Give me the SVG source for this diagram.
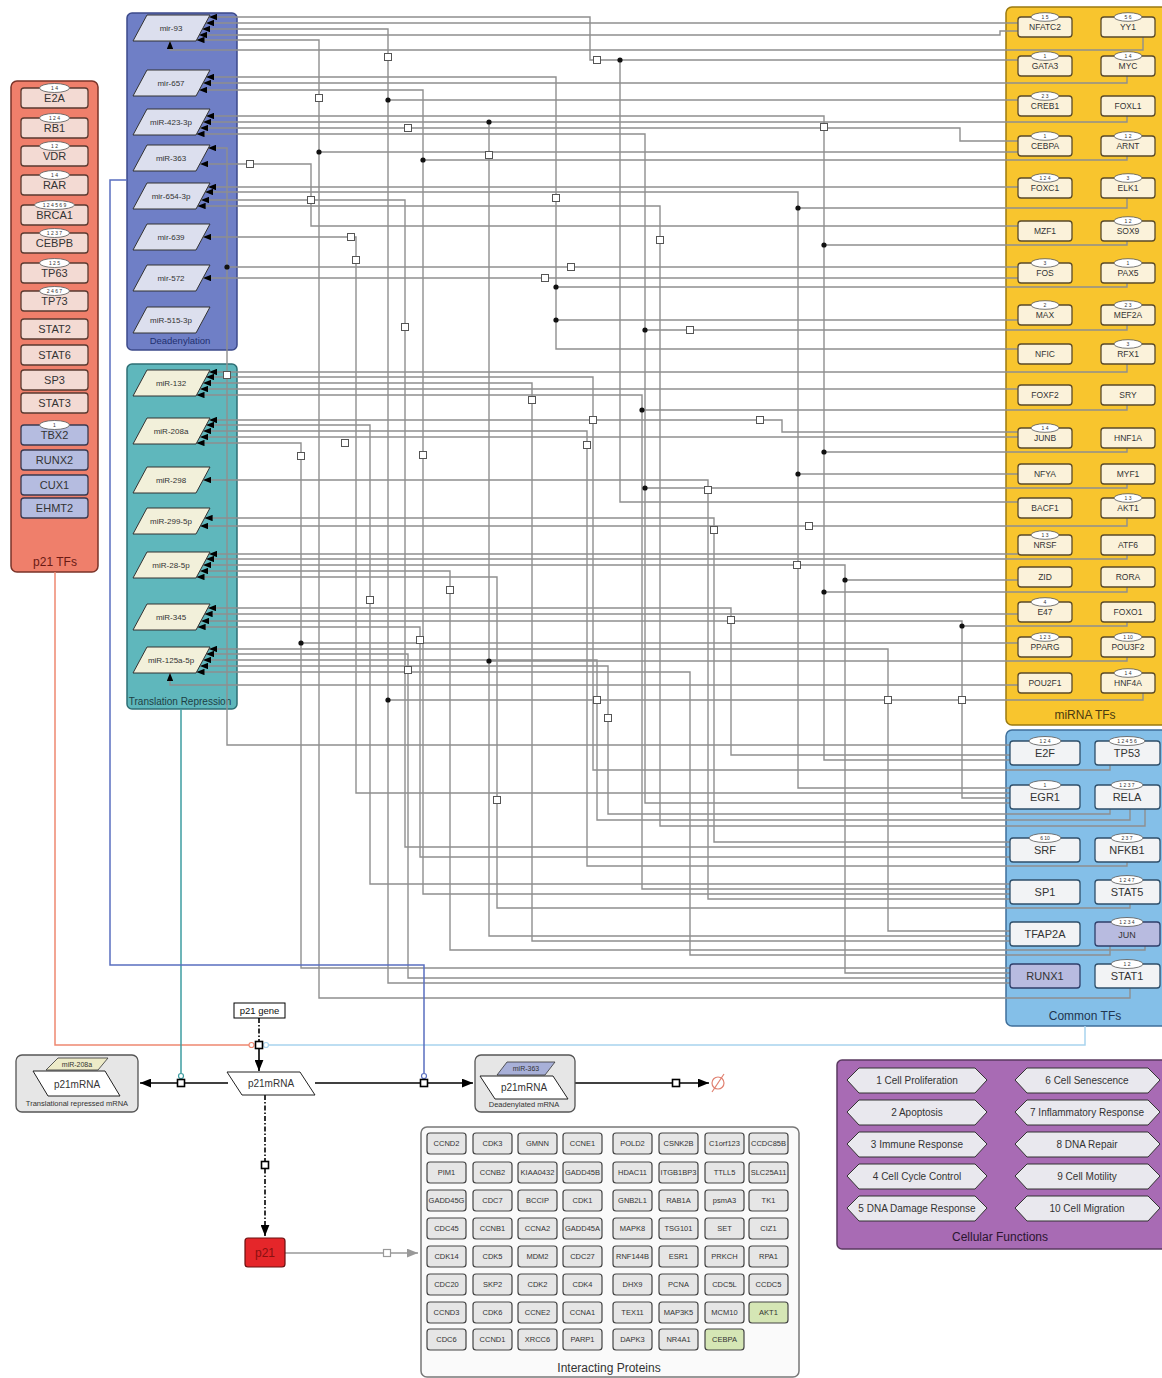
<svg xmlns="http://www.w3.org/2000/svg" width="1162" height="1378" viewBox="0 0 1162 1378">
<style>
text{font-family:"Liberation Sans",Arial,sans-serif;text-anchor:middle;fill:#333}
.w{fill:none;stroke:#8f8f8f;stroke-width:1.4}
.wa{fill:none;stroke:#8f8f8f;stroke-width:1.4;marker-start:url(#ah)}
.sq{fill:#fff;stroke:#555;stroke-width:1}
.dot{fill:#111}
.pb{fill:#F3DAD3;stroke:#5a3a30;stroke-width:1.3}
.pbb{fill:#B5BCE0;stroke:#3a3a50;stroke-width:1.3}
.dm{fill:#DCDFEE;stroke:#333;stroke-width:1}
.tm{fill:#F2F0DA;stroke:#333;stroke-width:1}
.yb{fill:#FBF2DA;stroke:#5a4a2a;stroke-width:1.3}
.cb{fill:#F2F3F5;stroke:#2f4f6a;stroke-width:1.3}
.cbb{fill:#B8BBE0;stroke:#2f3f6a;stroke-width:1.3}
.bd{fill:#fff;stroke:#555;stroke-width:0.8}
.bt{font-size:5px}
.t8{font-size:8px}
.t85{font-size:8.5px}
.t9{font-size:9px}
.t11{font-size:11px}
.ip{fill:#E6E6E6;stroke:#444;stroke-width:1.2}
.ipg{fill:#D5E6B5;stroke:#444;stroke-width:1.2}
.hx{fill:#E9E8EE;stroke:#333;stroke-width:1}
</style>
<defs>
<marker id="ah" viewBox="0 0 10 8" refX="10" refY="4" markerWidth="8" markerHeight="6.4" markerUnits="userSpaceOnUse" orient="auto-start-reverse"><path d="M0,0 L10,4 L0,8 z" fill="#000"/></marker>
<marker id="bh" viewBox="0 0 10 8" refX="10" refY="4" markerWidth="11" markerHeight="9" markerUnits="userSpaceOnUse" orient="auto"><path d="M0,0 L10,4 L0,8 z" fill="#000"/></marker>
<marker id="gh" viewBox="0 0 10 8" refX="10" refY="4" markerWidth="11" markerHeight="9" markerUnits="userSpaceOnUse" orient="auto"><path d="M0,0 L10,4 L0,8 z" fill="#999"/></marker>
</defs>
<rect width="1162" height="1378" fill="#fff"/>

<!-- panels -->
<g id="panel-p21tfs"><rect x="11" y="81" width="87" height="491" rx="6" fill="#EF7F6B" stroke="#7a3328" stroke-width="1.5"/><text x="55" y="566" style="font-size:12px;fill:#6a1a14">p21 TFs</text></g>
<g id="panel-dead"><rect x="127" y="13" width="110" height="337" rx="5" fill="#6F7FC6" stroke="#3c4a8a" stroke-width="1.5"/><text x="180" y="344" style="font-size:9.5px;fill:#223070">Deadenylation</text></g>
<g id="panel-trans"><rect x="127" y="364" width="110" height="345" rx="5" fill="#5FB7BC" stroke="#2e6f74" stroke-width="1.5"/><text x="180" y="705" style="font-size:10px;fill:#1d3f44">Translation Repression</text></g>
<g id="panel-mirnatfs"><rect x="1006" y="7" width="162" height="718" rx="6" fill="#F8C52E" stroke="#9a7a10" stroke-width="1.5"/><text x="1085" y="719" style="font-size:12px;fill:#4a3a10">miRNA TFs</text></g>
<g id="panel-common"><rect x="1006" y="730" width="162" height="296" rx="6" fill="#84BFE8" stroke="#3f6f9a" stroke-width="1.5"/><text x="1085" y="1020" style="font-size:12px;fill:#1f3550">Common TFs</text></g>
<g id="panel-cell"><rect x="837" y="1060" width="330" height="189" rx="5" fill="#A86BB4" stroke="#5a3a60" stroke-width="1.5"/><text x="1000" y="1241" style="font-size:12px;fill:#2a1530">Cellular Functions</text></g>
<g id="panel-ip"><rect x="421" y="1127" width="378" height="250" rx="6" fill="#FAFAFA" stroke="#777" stroke-width="1.5"/><text x="609" y="1372" style="font-size:12px;fill:#333">Interacting Proteins</text></g>

<!-- connectors -->
<g id="connectors">
<path class="wa" d="M209,17 H590 V60 H1018"/>
<path class="wa" d="M206,23 H1018"/>
<path class="wa" d="M202,29 H388 V983 H1010"/>
<path class="wa" d="M199,35 H1000 V31 H1018"/>
<path class="wa" d="M196.5,40 H319 V998 H1130 V988"/>
<path class="wa" d="M170,41 V50 H1143 V37"/>
<path class="wa" d="M206,77 H556 V349 H1018"/>
<path class="wa" d="M203,83 H1127 V76"/>
<path class="wa" d="M199,90 H423 V894 H1010"/>
<path class="wa" d="M206,116 H824 V760 H1010"/>
<path class="wa" d="M203,122 H489 V936 H1010"/>
<path class="wa" d="M200,128 H960 V141 H1018"/>
<path class="wa" d="M196.5,134 H645 V803 H1010"/>
<path class="wa" d="M208,148 H227 V745 H1010"/>
<path class="wa" d="M200,164 H311 V226 H1018"/>
<path class="wa" d="M208,187 H1018"/>
<path class="wa" d="M205,192 H798 V788 H1010"/>
<path class="wa" d="M201,200 H405 V847 H1010"/>
<path class="wa" d="M197.6,206 H660 V826 H1145 V809"/>
<path class="wa" d="M203,237 H356 V793 H1010"/>
<path class="wa" d="M203,278 H1018"/>
<path class="w" d="M227,267 H1018"/>
<path class="wa" d="M209,372 H1127 V364"/>
<path class="wa" d="M206,377 H593 V770 H1110 V765"/>
<path class="wa" d="M203,383 H532 V941 H1010"/>
<path class="wa" d="M200,389 H1018"/>
<path class="wa" d="M196.5,395 H642 V889 H1010"/>
<path class="wa" d="M209,420 H782 V432 H1018"/>
<path class="wa" d="M206,425 H370 V884 H1010"/>
<path class="wa" d="M203,431 H587 V866 H1127 V862"/>
<path class="wa" d="M200,437 H1018"/>
<path class="wa" d="M196.5,443 H301 V968 H1010"/>
<path class="wa" d="M203,480 H708 V899 H1010"/>
<path class="wa" d="M204.6,518 H714 V842 H1010"/>
<path class="wa" d="M200,526 H1127 V518"/>
<path class="wa" d="M209,554 H1018"/>
<path class="wa" d="M206,559 H1127 V555"/>
<path class="wa" d="M203,565 H845 V973 H1010"/>
<path class="wa" d="M200,571 H450 V950 H1145 V946"/>
<path class="wa" d="M196.5,577 H497 V908 H1130 V904"/>
<path class="wa" d="M208,608 H731 V755 H1010"/>
<path class="wa" d="M204.6,614 H1018"/>
<path class="wa" d="M201,621 H962 V798 H1010"/>
<path class="wa" d="M197.6,627 H420 V857 H1010"/>
<path class="wa" d="M209,649 H888 V931 H1010"/>
<path class="wa" d="M206,654 H408 V978 H1010"/>
<path class="wa" d="M203,660 H597 V820 H1130 V809"/>
<path class="wa" d="M200,666 H608 V814 H1110 V809"/>
<path class="wa" d="M196.5,672 H690 V955 H1110 V946"/>
<path class="wa" d="M170,673 V685 H1018"/>
<path class="w" d="M489,122 H1127 V116"/>
<path class="w" d="M620,60 V502 H1018"/>
<path class="w" d="M319,152 H1018"/>
<path class="w" d="M798,208 H1127 V198"/>
<path class="w" d="M824,245 H1127 V241"/>
<path class="w" d="M556,320 H1018"/>
<path class="w" d="M556,287 H1127 V283"/>
<path class="w" d="M645,330 H1127 V325"/>
<path class="w" d="M642,410 H1127 V405"/>
<path class="w" d="M824,452 H1127 V448"/>
<path class="w" d="M798,474 H1018"/>
<path class="w" d="M645,488 H1127 V484"/>
<path class="w" d="M845,580 H1018"/>
<path class="w" d="M824,592 H1127 V587"/>
<path class="w" d="M962,626 H1127 V622"/>
<path class="w" d="M301,643 H1018"/>
<path class="w" d="M489,661 H1127 V657"/>
<path class="w" d="M388,700 H1143 V693"/>
<path class="w" d="M388,100 H1018"/>
<path class="w" d="M423,160 H1127 V156"/>
<g class="dot">
<circle cx="620" cy="60" r="2.6"/><circle cx="489" cy="122" r="2.6"/><circle cx="319" cy="152" r="2.6"/><circle cx="798" cy="208" r="2.6"/><circle cx="824" cy="245" r="2.6"/><circle cx="227" cy="267" r="2.6"/><circle cx="556" cy="320" r="2.6"/><circle cx="556" cy="287" r="2.6"/><circle cx="645" cy="330" r="2.6"/><circle cx="642" cy="410" r="2.6"/><circle cx="824" cy="452" r="2.6"/><circle cx="798" cy="474" r="2.6"/><circle cx="645" cy="488" r="2.6"/><circle cx="845" cy="580" r="2.6"/><circle cx="824" cy="592" r="2.6"/><circle cx="962" cy="626" r="2.6"/><circle cx="301" cy="643" r="2.6"/><circle cx="489" cy="661" r="2.6"/><circle cx="388" cy="700" r="2.6"/><circle cx="388" cy="100" r="2.6"/><circle cx="423" cy="160" r="2.6"/>
</g>
<g class="sq">
<rect x="593.5" y="56.5" width="7" height="7"/><rect x="384.5" y="53.5" width="7" height="7"/><rect x="315.5" y="94.5" width="7" height="7"/><rect x="552.5" y="194.5" width="7" height="7"/><rect x="485.5" y="151.5" width="7" height="7"/><rect x="404.5" y="124.5" width="7" height="7"/><rect x="246.5" y="160.5" width="7" height="7"/><rect x="307.5" y="196.5" width="7" height="7"/><rect x="401.5" y="323.5" width="7" height="7"/><rect x="347.5" y="233.5" width="7" height="7"/><rect x="352.5" y="256.5" width="7" height="7"/><rect x="656.5" y="236.5" width="7" height="7"/><rect x="820.5" y="123.5" width="7" height="7"/><rect x="541.5" y="274.5" width="7" height="7"/><rect x="567.5" y="263.5" width="7" height="7"/><rect x="686.5" y="326.5" width="7" height="7"/><rect x="589.5" y="416.5" width="7" height="7"/><rect x="528.5" y="396.5" width="7" height="7"/><rect x="756.5" y="416.5" width="7" height="7"/><rect x="583.5" y="441.5" width="7" height="7"/><rect x="341.5" y="439.5" width="7" height="7"/><rect x="297.5" y="452.5" width="7" height="7"/><rect x="704.5" y="486.5" width="7" height="7"/><rect x="710.5" y="526.5" width="7" height="7"/><rect x="805.5" y="522.5" width="7" height="7"/><rect x="446.5" y="586.5" width="7" height="7"/><rect x="727.5" y="616.5" width="7" height="7"/><rect x="416.5" y="636.5" width="7" height="7"/><rect x="404.5" y="666.5" width="7" height="7"/><rect x="593.5" y="696.5" width="7" height="7"/><rect x="604.5" y="714.5" width="7" height="7"/><rect x="884.5" y="696.5" width="7" height="7"/><rect x="958.5" y="696.5" width="7" height="7"/><rect x="419.5" y="451.5" width="7" height="7"/><rect x="223.5" y="371.5" width="7" height="7"/><rect x="793.5" y="561.5" width="7" height="7"/><rect x="493.5" y="796.5" width="7" height="7"/><rect x="366.5" y="596.5" width="7" height="7"/>
</g>
</g>

<!-- p21 TFs -->
<g id="p21tf-E2A"><rect class="pb" x="21" y="88" width="67" height="20" rx="3"/><ellipse class="bd" cx="54.5" cy="88" rx="15" ry="4.5"/><text class="bt" x="54.5" y="90">1 4</text><text class="t11" x="54.5" y="102">E2A</text></g>
<g id="p21tf-RB1"><rect class="pb" x="21" y="118" width="67" height="20" rx="3"/><ellipse class="bd" cx="54.5" cy="118" rx="15" ry="4.5"/><text class="bt" x="54.5" y="120">1 2 4</text><text class="t11" x="54.5" y="132">RB1</text></g>
<g id="p21tf-VDR"><rect class="pb" x="21" y="146" width="67" height="20" rx="3"/><ellipse class="bd" cx="54.5" cy="146" rx="15" ry="4.5"/><text class="bt" x="54.5" y="148">1 2</text><text class="t11" x="54.5" y="160">VDR</text></g>
<g id="p21tf-RAR"><rect class="pb" x="21" y="175" width="67" height="20" rx="3"/><ellipse class="bd" cx="54.5" cy="175" rx="15" ry="4.5"/><text class="bt" x="54.5" y="177">1 4</text><text class="t11" x="54.5" y="189">RAR</text></g>
<g id="p21tf-BRCA1"><rect class="pb" x="21" y="205" width="67" height="20" rx="3"/><ellipse class="bd" cx="54.5" cy="205" rx="20" ry="4.5"/><text class="bt" x="54.5" y="207">1 2 4 5 6 9</text><text class="t11" x="54.5" y="219">BRCA1</text></g>
<g id="p21tf-CEBPB"><rect class="pb" x="21" y="233" width="67" height="20" rx="3"/><ellipse class="bd" cx="54.5" cy="233" rx="15" ry="4.5"/><text class="bt" x="54.5" y="235">1 2 3 7</text><text class="t11" x="54.5" y="247">CEBPB</text></g>
<g id="p21tf-TP63"><rect class="pb" x="21" y="263" width="67" height="20" rx="3"/><ellipse class="bd" cx="54.5" cy="263" rx="15" ry="4.5"/><text class="bt" x="54.5" y="265">1 2 5</text><text class="t11" x="54.5" y="277">TP63</text></g>
<g id="p21tf-TP73"><rect class="pb" x="21" y="291" width="67" height="20" rx="3"/><ellipse class="bd" cx="54.5" cy="291" rx="15" ry="4.5"/><text class="bt" x="54.5" y="293">2 4 6 7</text><text class="t11" x="54.5" y="305">TP73</text></g>
<g id="p21tf-STAT2"><rect class="pb" x="21" y="319" width="67" height="20" rx="3"/><text class="t11" x="54.5" y="333">STAT2</text></g>
<g id="p21tf-STAT6"><rect class="pb" x="21" y="345" width="67" height="20" rx="3"/><text class="t11" x="54.5" y="359">STAT6</text></g>
<g id="p21tf-SP3"><rect class="pb" x="21" y="370" width="67" height="20" rx="3"/><text class="t11" x="54.5" y="384">SP3</text></g>
<g id="p21tf-STAT3"><rect class="pb" x="21" y="393" width="67" height="20" rx="3"/><text class="t11" x="54.5" y="407">STAT3</text></g>
<g id="p21tf-TBX2"><rect class="pbb" x="21" y="425" width="67" height="20" rx="3"/><ellipse class="bd" cx="54.5" cy="425" rx="15" ry="4.5"/><text class="bt" x="54.5" y="427">1</text><text class="t11" x="54.5" y="439">TBX2</text></g>
<g id="p21tf-RUNX2"><rect class="pbb" x="21" y="450" width="67" height="20" rx="3"/><text class="t11" x="54.5" y="464">RUNX2</text></g>
<g id="p21tf-CUX1"><rect class="pbb" x="21" y="475" width="67" height="20" rx="3"/><text class="t11" x="54.5" y="489">CUX1</text></g>
<g id="p21tf-EHMT2"><rect class="pbb" x="21" y="498" width="67" height="20" rx="3"/><text class="t11" x="54.5" y="512">EHMT2</text></g>

<!-- deadenylation miRNAs -->
<g id="mir-93"><polygon class="dm" points="147,15 210,15 196,41 133,41"/><text class="t8" x="171" y="31">mir-93</text></g>
<g id="mir-657"><polygon class="dm" points="147,70 210,70 196,96 133,96"/><text class="t8" x="171" y="86">mir-657</text></g>
<g id="miR-423-3p"><polygon class="dm" points="147,109 210,109 196,135 133,135"/><text class="t8" x="171" y="125">miR-423-3p</text></g>
<g id="miR-363"><polygon class="dm" points="147,145 210,145 196,171 133,171"/><text class="t8" x="171" y="161">miR-363</text></g>
<g id="mir-654-3p"><polygon class="dm" points="147,183 210,183 196,209 133,209"/><text class="t8" x="171" y="199">mir-654-3p</text></g>
<g id="mir-639"><polygon class="dm" points="147,224 210,224 196,250 133,250"/><text class="t8" x="171" y="240">mir-639</text></g>
<g id="mir-572"><polygon class="dm" points="147,265 210,265 196,291 133,291"/><text class="t8" x="171" y="281">mir-572</text></g>
<g id="miR-515-3p"><polygon class="dm" points="147,307 210,307 196,333 133,333"/><text class="t8" x="171" y="323">miR-515-3p</text></g>

<!-- translation repression miRNAs -->
<g id="miR-132"><polygon class="tm" points="147,370 210,370 196,396 133,396"/><text class="t8" x="171" y="386">miR-132</text></g>
<g id="miR-208a"><polygon class="tm" points="147,418 210,418 196,444 133,444"/><text class="t8" x="171" y="434">miR-208a</text></g>
<g id="miR-298"><polygon class="tm" points="147,467 210,467 196,493 133,493"/><text class="t8" x="171" y="483">miR-298</text></g>
<g id="miR-299-5p"><polygon class="tm" points="147,508 210,508 196,534 133,534"/><text class="t8" x="171" y="524">miR-299-5p</text></g>
<g id="miR-28-5p"><polygon class="tm" points="147,552 210,552 196,578 133,578"/><text class="t8" x="171" y="568">miR-28-5p</text></g>
<g id="miR-345"><polygon class="tm" points="147,604 210,604 196,630 133,630"/><text class="t8" x="171" y="620">miR-345</text></g>
<g id="miR-125a-5p"><polygon class="tm" points="147,647 210,647 196,673 133,673"/><text class="t8" x="171" y="663">miR-125a-5p</text></g>

<!-- miRNA TFs left column -->
<g id="tf-NFATC2"><rect class="yb" x="1018" y="17" width="54" height="20" rx="3"/><ellipse class="bd" cx="1045" cy="17" rx="14" ry="4.3"/><text class="bt" x="1045" y="19">1 5</text><text class="t85" x="1045" y="30">NFATC2</text></g>
<g id="tf-GATA3"><rect class="yb" x="1018" y="56" width="54" height="20" rx="3"/><ellipse class="bd" cx="1045" cy="56" rx="14" ry="4.3"/><text class="bt" x="1045" y="58">1</text><text class="t85" x="1045" y="69">GATA3</text></g>
<g id="tf-CREB1"><rect class="yb" x="1018" y="96" width="54" height="20" rx="3"/><ellipse class="bd" cx="1045" cy="96" rx="14" ry="4.3"/><text class="bt" x="1045" y="98">2 3</text><text class="t85" x="1045" y="109">CREB1</text></g>
<g id="tf-CEBPA"><rect class="yb" x="1018" y="136" width="54" height="20" rx="3"/><ellipse class="bd" cx="1045" cy="136" rx="14" ry="4.3"/><text class="bt" x="1045" y="138">1</text><text class="t85" x="1045" y="149">CEBPA</text></g>
<g id="tf-FOXC1"><rect class="yb" x="1018" y="178" width="54" height="20" rx="3"/><ellipse class="bd" cx="1045" cy="178" rx="14" ry="4.3"/><text class="bt" x="1045" y="180">1 2 4</text><text class="t85" x="1045" y="191">FOXC1</text></g>
<g id="tf-MZF1"><rect class="yb" x="1018" y="221" width="54" height="20" rx="3"/><text class="t85" x="1045" y="234">MZF1</text></g>
<g id="tf-FOS"><rect class="yb" x="1018" y="263" width="54" height="20" rx="3"/><ellipse class="bd" cx="1045" cy="263" rx="14" ry="4.3"/><text class="bt" x="1045" y="265">3</text><text class="t85" x="1045" y="276">FOS</text></g>
<g id="tf-MAX"><rect class="yb" x="1018" y="305" width="54" height="20" rx="3"/><ellipse class="bd" cx="1045" cy="305" rx="14" ry="4.3"/><text class="bt" x="1045" y="307">2</text><text class="t85" x="1045" y="318">MAX</text></g>
<g id="tf-NFIC"><rect class="yb" x="1018" y="344" width="54" height="20" rx="3"/><text class="t85" x="1045" y="357">NFIC</text></g>
<g id="tf-FOXF2"><rect class="yb" x="1018" y="385" width="54" height="20" rx="3"/><text class="t85" x="1045" y="398">FOXF2</text></g>
<g id="tf-JUNB"><rect class="yb" x="1018" y="428" width="54" height="20" rx="3"/><ellipse class="bd" cx="1045" cy="428" rx="14" ry="4.3"/><text class="bt" x="1045" y="430">1 4</text><text class="t85" x="1045" y="441">JUNB</text></g>
<g id="tf-NFYA"><rect class="yb" x="1018" y="464" width="54" height="20" rx="3"/><text class="t85" x="1045" y="477">NFYA</text></g>
<g id="tf-BACF1"><rect class="yb" x="1018" y="498" width="54" height="20" rx="3"/><text class="t85" x="1045" y="511">BACF1</text></g>
<g id="tf-NRSF"><rect class="yb" x="1018" y="535" width="54" height="20" rx="3"/><ellipse class="bd" cx="1045" cy="535" rx="14" ry="4.3"/><text class="bt" x="1045" y="537">1 3</text><text class="t85" x="1045" y="548">NRSF</text></g>
<g id="tf-ZID"><rect class="yb" x="1018" y="567" width="54" height="20" rx="3"/><text class="t85" x="1045" y="580">ZID</text></g>
<g id="tf-E47"><rect class="yb" x="1018" y="602" width="54" height="20" rx="3"/><ellipse class="bd" cx="1045" cy="602" rx="14" ry="4.3"/><text class="bt" x="1045" y="604">4</text><text class="t85" x="1045" y="615">E47</text></g>
<g id="tf-PPARG"><rect class="yb" x="1018" y="637" width="54" height="20" rx="3"/><ellipse class="bd" cx="1045" cy="637" rx="14" ry="4.3"/><text class="bt" x="1045" y="639">1 2 3</text><text class="t85" x="1045" y="650">PPARG</text></g>
<g id="tf-POU2F1"><rect class="yb" x="1018" y="673" width="54" height="20" rx="3"/><text class="t85" x="1045" y="686">POU2F1</text></g>

<!-- miRNA TFs right column -->
<g id="tf-YY1"><rect class="yb" x="1101" y="17" width="54" height="20" rx="3"/><ellipse class="bd" cx="1128" cy="17" rx="14" ry="4.3"/><text class="bt" x="1128" y="19">5 6</text><text class="t85" x="1128" y="30">YY1</text></g>
<g id="tf-MYC"><rect class="yb" x="1101" y="56" width="54" height="20" rx="3"/><ellipse class="bd" cx="1128" cy="56" rx="14" ry="4.3"/><text class="bt" x="1128" y="58">1 4</text><text class="t85" x="1128" y="69">MYC</text></g>
<g id="tf-FOXL1"><rect class="yb" x="1101" y="96" width="54" height="20" rx="3"/><text class="t85" x="1128" y="109">FOXL1</text></g>
<g id="tf-ARNT"><rect class="yb" x="1101" y="136" width="54" height="20" rx="3"/><ellipse class="bd" cx="1128" cy="136" rx="14" ry="4.3"/><text class="bt" x="1128" y="138">1 2</text><text class="t85" x="1128" y="149">ARNT</text></g>
<g id="tf-ELK1"><rect class="yb" x="1101" y="178" width="54" height="20" rx="3"/><ellipse class="bd" cx="1128" cy="178" rx="14" ry="4.3"/><text class="bt" x="1128" y="180">3</text><text class="t85" x="1128" y="191">ELK1</text></g>
<g id="tf-SOX9"><rect class="yb" x="1101" y="221" width="54" height="20" rx="3"/><ellipse class="bd" cx="1128" cy="221" rx="14" ry="4.3"/><text class="bt" x="1128" y="223">1 2</text><text class="t85" x="1128" y="234">SOX9</text></g>
<g id="tf-PAX5"><rect class="yb" x="1101" y="263" width="54" height="20" rx="3"/><ellipse class="bd" cx="1128" cy="263" rx="14" ry="4.3"/><text class="bt" x="1128" y="265">1</text><text class="t85" x="1128" y="276">PAX5</text></g>
<g id="tf-MEF2A"><rect class="yb" x="1101" y="305" width="54" height="20" rx="3"/><ellipse class="bd" cx="1128" cy="305" rx="14" ry="4.3"/><text class="bt" x="1128" y="307">2 3</text><text class="t85" x="1128" y="318">MEF2A</text></g>
<g id="tf-RFX1"><rect class="yb" x="1101" y="344" width="54" height="20" rx="3"/><ellipse class="bd" cx="1128" cy="344" rx="14" ry="4.3"/><text class="bt" x="1128" y="346">3</text><text class="t85" x="1128" y="357">RFX1</text></g>
<g id="tf-SRY"><rect class="yb" x="1101" y="385" width="54" height="20" rx="3"/><text class="t85" x="1128" y="398">SRY</text></g>
<g id="tf-HNF1A"><rect class="yb" x="1101" y="428" width="54" height="20" rx="3"/><text class="t85" x="1128" y="441">HNF1A</text></g>
<g id="tf-MYF1"><rect class="yb" x="1101" y="464" width="54" height="20" rx="3"/><text class="t85" x="1128" y="477">MYF1</text></g>
<g id="tf-AKT1"><rect class="yb" x="1101" y="498" width="54" height="20" rx="3"/><ellipse class="bd" cx="1128" cy="498" rx="14" ry="4.3"/><text class="bt" x="1128" y="500">1 3</text><text class="t85" x="1128" y="511">AKT1</text></g>
<g id="tf-ATF6"><rect class="yb" x="1101" y="535" width="54" height="20" rx="3"/><text class="t85" x="1128" y="548">ATF6</text></g>
<g id="tf-RORA"><rect class="yb" x="1101" y="567" width="54" height="20" rx="3"/><text class="t85" x="1128" y="580">RORA</text></g>
<g id="tf-FOXO1"><rect class="yb" x="1101" y="602" width="54" height="20" rx="3"/><text class="t85" x="1128" y="615">FOXO1</text></g>
<g id="tf-POU3F2"><rect class="yb" x="1101" y="637" width="54" height="20" rx="3"/><ellipse class="bd" cx="1128" cy="637" rx="14" ry="4.3"/><text class="bt" x="1128" y="639">1 10</text><text class="t85" x="1128" y="650">POU3F2</text></g>
<g id="tf-HNF4A"><rect class="yb" x="1101" y="673" width="54" height="20" rx="3"/><ellipse class="bd" cx="1128" cy="673" rx="14" ry="4.3"/><text class="bt" x="1128" y="675">1 4</text><text class="t85" x="1128" y="686">HNF4A</text></g>

<!-- common TFs -->
<g id="ctf-E2F"><rect class="cb" x="1010" y="741" width="70" height="24" rx="3"/><ellipse class="bd" cx="1045" cy="741" rx="16" ry="4.5"/><text class="bt" x="1045" y="743">1 2 4</text><text class="t11" x="1045" y="757">E2F</text></g>
<g id="ctf-EGR1"><rect class="cb" x="1010" y="785" width="70" height="24" rx="3"/><ellipse class="bd" cx="1045" cy="785" rx="16" ry="4.5"/><text class="bt" x="1045" y="787">1</text><text class="t11" x="1045" y="801">EGR1</text></g>
<g id="ctf-SRF"><rect class="cb" x="1010" y="838" width="70" height="24" rx="3"/><ellipse class="bd" cx="1045" cy="838" rx="16" ry="4.5"/><text class="bt" x="1045" y="840">6 10</text><text class="t11" x="1045" y="854">SRF</text></g>
<g id="ctf-SP1"><rect class="cb" x="1010" y="880" width="70" height="24" rx="3"/><text class="t11" x="1045" y="896">SP1</text></g>
<g id="ctf-TFAP2A"><rect class="cb" x="1010" y="922" width="70" height="24" rx="3"/><text class="t11" x="1045" y="938">TFAP2A</text></g>
<g id="ctf-RUNX1"><rect class="cbb" x="1010" y="964" width="70" height="24" rx="3"/><text class="t11" x="1045" y="980">RUNX1</text></g>
<g id="ctf-TP53"><rect class="cb" x="1095" y="741" width="65" height="24" rx="3"/><ellipse class="bd" cx="1127" cy="741" rx="18" ry="4.5"/><text class="bt" x="1127" y="743">1 2 4 5 6</text><text class="t11" x="1127" y="757">TP53</text></g>
<g id="ctf-RELA"><rect class="cb" x="1095" y="785" width="65" height="24" rx="3"/><ellipse class="bd" cx="1127" cy="785" rx="16" ry="4.5"/><text class="bt" x="1127" y="787">1 2 3 7</text><text class="t11" x="1127" y="801">RELA</text></g>
<g id="ctf-NFKB1"><rect class="cb" x="1095" y="838" width="65" height="24" rx="3"/><ellipse class="bd" cx="1127" cy="838" rx="16" ry="4.5"/><text class="bt" x="1127" y="840">2 3 7</text><text class="t11" x="1127" y="854">NFKB1</text></g>
<g id="ctf-STAT5"><rect class="cb" x="1095" y="880" width="65" height="24" rx="3"/><ellipse class="bd" cx="1127" cy="880" rx="16" ry="4.5"/><text class="bt" x="1127" y="882">1 2 4 7</text><text class="t11" x="1127" y="896">STAT5</text></g>
<g id="ctf-JUN"><rect class="cbb" x="1095" y="922" width="65" height="24" rx="3"/><ellipse class="bd" cx="1127" cy="922" rx="16" ry="4.5"/><text class="bt" x="1127" y="924">1 2 3 4</text><text class="t9" x="1127" y="938">JUN</text></g>
<g id="ctf-STAT1"><rect class="cb" x="1095" y="964" width="65" height="24" rx="3"/><ellipse class="bd" cx="1127" cy="964" rx="16" ry="4.5"/><text class="bt" x="1127" y="966">1 2</text><text class="t11" x="1127" y="980">STAT1</text></g>

<!-- p21 regulation connectors -->
<g id="p21-connectors">
<path d="M55,572 V1045 H249" fill="none" stroke="#EE8870" stroke-width="1.5"/>
<circle cx="251.5" cy="1045" r="2.5" fill="#fff" stroke="#EE8870" stroke-width="1.2"/>
<path d="M268,1045 H1085 V1026" fill="none" stroke="#A8D4EE" stroke-width="1.5"/>
<circle cx="266" cy="1045" r="2.5" fill="#fff" stroke="#A8D4EE" stroke-width="1.2"/>
<path d="M181,709 V1073" fill="none" stroke="#3C9CA0" stroke-width="1.5"/>
<circle cx="181" cy="1076" r="2.5" fill="#fff" stroke="#3C9CA0" stroke-width="1.2"/>
<path d="M127,180 H110 V965 H424 V1073" fill="none" stroke="#5A6FC0" stroke-width="1.5"/>
<circle cx="424" cy="1076" r="2.5" fill="#fff" stroke="#5A6FC0" stroke-width="1.2"/>
<path d="M259,1018 V1041" fill="none" stroke="#000" stroke-width="1.6" stroke-dasharray="5,2,1.5,2"/>
<path d="M259,1049 V1071" fill="none" stroke="#000" stroke-width="1.6" marker-end="url(#bh)"/>
<path d="M228,1083 H140" fill="none" stroke="#000" stroke-width="1.6" marker-end="url(#bh)"/>
<path d="M315,1083 H473" fill="none" stroke="#000" stroke-width="1.6" marker-end="url(#bh)"/>
<path d="M575,1083 H709" fill="none" stroke="#000" stroke-width="1.6" marker-end="url(#bh)"/>
<path d="M265,1095 V1236" fill="none" stroke="#000" stroke-width="1.6" stroke-dasharray="5,2,1.5,2" marker-end="url(#bh)"/>
<path d="M285,1253 H418" fill="none" stroke="#999" stroke-width="1.6" marker-end="url(#gh)"/>
<rect x="255.5" y="1041.5" width="7" height="7" fill="#fff" stroke="#000" stroke-width="1.6"/>
<rect x="177.5" y="1079.5" width="7" height="7" fill="#fff" stroke="#000" stroke-width="1.6"/>
<rect x="420.5" y="1079.5" width="7" height="7" fill="#fff" stroke="#000" stroke-width="1.6"/>
<rect x="672.5" y="1079.5" width="7" height="7" fill="#fff" stroke="#000" stroke-width="1.6"/>
<rect x="261.5" y="1161.5" width="7" height="7" fill="#fff" stroke="#000" stroke-width="1.6"/>
<rect x="383.5" y="1249.5" width="7" height="7" fill="#fff" stroke="#999" stroke-width="1.2"/>
</g>

<g id="p21-gene"><rect x="234" y="1003" width="51" height="15" fill="#fff" stroke="#000" stroke-width="1"/><text x="259.5" y="1014" style="font-size:9.5px;fill:#111">p21 gene</text></g>
<g id="p21mRNA"><polygon points="227,1072 300,1072 315,1095 242,1095" fill="#fff" stroke="#222" stroke-width="1"/><text x="271" y="1087" style="font-size:10px">p21mRNA</text></g>
<g id="complex-transrep"><rect x="16" y="1055" width="122" height="57" rx="6" fill="#E6E6E6" stroke="#555" stroke-width="1.3"/><polygon points="58,1058 108,1058 98,1070 46,1070" fill="#EDEBC8" stroke="#333" stroke-width="0.8"/><text x="77" y="1067" style="font-size:7px">miR-208a</text><polygon points="33,1071 105,1071 120,1096 48,1096" fill="#fff" stroke="#222" stroke-width="1"/><text x="77" y="1088" style="font-size:10px">p21mRNA</text><text x="77" y="1106" style="font-size:7.5px">Translational repressed mRNA</text></g>
<g id="complex-dead"><rect x="475" y="1055" width="100" height="57" rx="6" fill="#E6E6E6" stroke="#555" stroke-width="1.3"/><polygon points="507,1062 555,1062 545,1075 497,1075" fill="#A8B0D8" stroke="#333" stroke-width="0.8"/><text x="526" y="1071" style="font-size:7px">miR-363</text><polygon points="480,1076 553,1076 568,1099 495,1099" fill="#fff" stroke="#222" stroke-width="1"/><text x="524" y="1091" style="font-size:10px">p21mRNA</text><text x="524" y="1107" style="font-size:7.5px">Deadenylated mRNA</text></g>
<g id="degradation"><circle cx="718" cy="1083" r="6" fill="none" stroke="#E08070" stroke-width="1.2"/><line x1="712" y1="1092" x2="724" y2="1074" stroke="#E08070" stroke-width="1.2"/></g>
<g id="p21-protein"><rect x="245" y="1238" width="40" height="29" rx="3" fill="#E5262A" stroke="#6a1010" stroke-width="1.2"/><text x="265" y="1257" style="font-size:12px;fill:#8a1010">p21</text></g>

<!-- interacting proteins -->
<g id="interacting-proteins" style="font-size:7.5px">
<g><rect class="ip" x="427" y="1133" width="39" height="21" rx="3"/><text x="446.5" y="1146">CCND2</text><rect class="ip" x="473" y="1133" width="39" height="21" rx="3"/><text x="492.5" y="1146">CDK3</text><rect class="ip" x="518" y="1133" width="39" height="21" rx="3"/><text x="537.5" y="1146">GMNN</text><rect class="ip" x="563" y="1133" width="39" height="21" rx="3"/><text x="582.5" y="1146">CCNE1</text><rect class="ip" x="613" y="1133" width="39" height="21" rx="3"/><text x="632.5" y="1146">POLD2</text><rect class="ip" x="659" y="1133" width="39" height="21" rx="3"/><text x="678.5" y="1146">CSNK2B</text><rect class="ip" x="705" y="1133" width="39" height="21" rx="3"/><text x="724.5" y="1146">C1orf123</text><rect class="ip" x="749" y="1133" width="39" height="21" rx="3"/><text x="768.5" y="1146">CCDC85B</text></g>
<g><rect class="ip" x="427" y="1162" width="39" height="21" rx="3"/><text x="446.5" y="1175">PIM1</text><rect class="ip" x="473" y="1162" width="39" height="21" rx="3"/><text x="492.5" y="1175">CCNB2</text><rect class="ip" x="518" y="1162" width="39" height="21" rx="3"/><text x="537.5" y="1175">KIAA0432</text><rect class="ip" x="563" y="1162" width="39" height="21" rx="3"/><text x="582.5" y="1175">GADD45B</text><rect class="ip" x="613" y="1162" width="39" height="21" rx="3"/><text x="632.5" y="1175">HDAC11</text><rect class="ip" x="659" y="1162" width="39" height="21" rx="3"/><text x="678.5" y="1175">ITGB1BP3</text><rect class="ip" x="705" y="1162" width="39" height="21" rx="3"/><text x="724.5" y="1175">TTLL5</text><rect class="ip" x="749" y="1162" width="39" height="21" rx="3"/><text x="768.5" y="1175">SLC25A11</text></g>
<g><rect class="ip" x="427" y="1190" width="39" height="21" rx="3"/><text x="446.5" y="1203">GADD45G</text><rect class="ip" x="473" y="1190" width="39" height="21" rx="3"/><text x="492.5" y="1203">CDC7</text><rect class="ip" x="518" y="1190" width="39" height="21" rx="3"/><text x="537.5" y="1203">BCCIP</text><rect class="ip" x="563" y="1190" width="39" height="21" rx="3"/><text x="582.5" y="1203">CDK1</text><rect class="ip" x="613" y="1190" width="39" height="21" rx="3"/><text x="632.5" y="1203">GNB2L1</text><rect class="ip" x="659" y="1190" width="39" height="21" rx="3"/><text x="678.5" y="1203">RAB1A</text><rect class="ip" x="705" y="1190" width="39" height="21" rx="3"/><text x="724.5" y="1203">psmA3</text><rect class="ip" x="749" y="1190" width="39" height="21" rx="3"/><text x="768.5" y="1203">TK1</text></g>
<g><rect class="ip" x="427" y="1218" width="39" height="21" rx="3"/><text x="446.5" y="1231">CDC45</text><rect class="ip" x="473" y="1218" width="39" height="21" rx="3"/><text x="492.5" y="1231">CCNB1</text><rect class="ip" x="518" y="1218" width="39" height="21" rx="3"/><text x="537.5" y="1231">CCNA2</text><rect class="ip" x="563" y="1218" width="39" height="21" rx="3"/><text x="582.5" y="1231">GADD45A</text><rect class="ip" x="613" y="1218" width="39" height="21" rx="3"/><text x="632.5" y="1231">MAPK8</text><rect class="ip" x="659" y="1218" width="39" height="21" rx="3"/><text x="678.5" y="1231">TSG101</text><rect class="ip" x="705" y="1218" width="39" height="21" rx="3"/><text x="724.5" y="1231">SET</text><rect class="ip" x="749" y="1218" width="39" height="21" rx="3"/><text x="768.5" y="1231">CIZ1</text></g>
<g><rect class="ip" x="427" y="1246" width="39" height="21" rx="3"/><text x="446.5" y="1259">CDK14</text><rect class="ip" x="473" y="1246" width="39" height="21" rx="3"/><text x="492.5" y="1259">CDK5</text><rect class="ip" x="518" y="1246" width="39" height="21" rx="3"/><text x="537.5" y="1259">MDM2</text><rect class="ip" x="563" y="1246" width="39" height="21" rx="3"/><text x="582.5" y="1259">CDC27</text><rect class="ip" x="613" y="1246" width="39" height="21" rx="3"/><text x="632.5" y="1259">RNF144B</text><rect class="ip" x="659" y="1246" width="39" height="21" rx="3"/><text x="678.5" y="1259">ESR1</text><rect class="ip" x="705" y="1246" width="39" height="21" rx="3"/><text x="724.5" y="1259">PRKCH</text><rect class="ip" x="749" y="1246" width="39" height="21" rx="3"/><text x="768.5" y="1259">RPA1</text></g>
<g><rect class="ip" x="427" y="1274" width="39" height="21" rx="3"/><text x="446.5" y="1287">CDC20</text><rect class="ip" x="473" y="1274" width="39" height="21" rx="3"/><text x="492.5" y="1287">SKP2</text><rect class="ip" x="518" y="1274" width="39" height="21" rx="3"/><text x="537.5" y="1287">CDK2</text><rect class="ip" x="563" y="1274" width="39" height="21" rx="3"/><text x="582.5" y="1287">CDK4</text><rect class="ip" x="613" y="1274" width="39" height="21" rx="3"/><text x="632.5" y="1287">DHX9</text><rect class="ip" x="659" y="1274" width="39" height="21" rx="3"/><text x="678.5" y="1287">PCNA</text><rect class="ip" x="705" y="1274" width="39" height="21" rx="3"/><text x="724.5" y="1287">CDC5L</text><rect class="ip" x="749" y="1274" width="39" height="21" rx="3"/><text x="768.5" y="1287">CCDC5</text></g>
<g><rect class="ip" x="427" y="1302" width="39" height="21" rx="3"/><text x="446.5" y="1315">CCND3</text><rect class="ip" x="473" y="1302" width="39" height="21" rx="3"/><text x="492.5" y="1315">CDK6</text><rect class="ip" x="518" y="1302" width="39" height="21" rx="3"/><text x="537.5" y="1315">CCNE2</text><rect class="ip" x="563" y="1302" width="39" height="21" rx="3"/><text x="582.5" y="1315">CCNA1</text><rect class="ip" x="613" y="1302" width="39" height="21" rx="3"/><text x="632.5" y="1315">TEX11</text><rect class="ip" x="659" y="1302" width="39" height="21" rx="3"/><text x="678.5" y="1315">MAP3K5</text><rect class="ip" x="705" y="1302" width="39" height="21" rx="3"/><text x="724.5" y="1315">MCM10</text><rect class="ipg" x="749" y="1302" width="39" height="21" rx="3"/><text x="768.5" y="1315">AKT1</text></g>
<g><rect class="ip" x="427" y="1329" width="39" height="21" rx="3"/><text x="446.5" y="1342">CDC6</text><rect class="ip" x="473" y="1329" width="39" height="21" rx="3"/><text x="492.5" y="1342">CCND1</text><rect class="ip" x="518" y="1329" width="39" height="21" rx="3"/><text x="537.5" y="1342">XRCC6</text><rect class="ip" x="563" y="1329" width="39" height="21" rx="3"/><text x="582.5" y="1342">PARP1</text><rect class="ip" x="613" y="1329" width="39" height="21" rx="3"/><text x="632.5" y="1342">DAPK3</text><rect class="ip" x="659" y="1329" width="39" height="21" rx="3"/><text x="678.5" y="1342">NR4A1</text><rect class="ipg" x="705" y="1329" width="39" height="21" rx="3"/><text x="724.5" y="1342">CEBPA</text></g>
</g>

<!-- cellular functions -->
<g id="cellular-functions" style="font-size:10px">
<g id="cf1"><polygon class="hx" points="859,1068 975,1068 987,1080 975,1093 859,1093 847,1080"/><text x="917" y="1084">1 Cell Proliferation</text></g>
<g id="cf2"><polygon class="hx" points="859,1100 975,1100 987,1112 975,1125 859,1125 847,1112"/><text x="917" y="1116">2 Apoptosis</text></g>
<g id="cf3"><polygon class="hx" points="859,1132 975,1132 987,1144 975,1157 859,1157 847,1144"/><text x="917" y="1148">3 Immune Response</text></g>
<g id="cf4"><polygon class="hx" points="859,1164 975,1164 987,1176 975,1189 859,1189 847,1176"/><text x="917" y="1180">4 Cell Cycle Control</text></g>
<g id="cf5"><polygon class="hx" points="859,1196 975,1196 987,1208 975,1221 859,1221 847,1208"/><text x="917" y="1212">5 DNA Damage Response</text></g>
<g id="cf6"><polygon class="hx" points="1027,1068 1148,1068 1160,1080 1148,1093 1027,1093 1015,1080"/><text x="1087" y="1084">6 Cell Senescence</text></g>
<g id="cf7"><polygon class="hx" points="1027,1100 1148,1100 1160,1112 1148,1125 1027,1125 1015,1112"/><text x="1087" y="1116">7 Inflammatory Response</text></g>
<g id="cf8"><polygon class="hx" points="1027,1132 1148,1132 1160,1144 1148,1157 1027,1157 1015,1144"/><text x="1087" y="1148">8 DNA Repair</text></g>
<g id="cf9"><polygon class="hx" points="1027,1164 1148,1164 1160,1176 1148,1189 1027,1189 1015,1176"/><text x="1087" y="1180">9 Cell Motility</text></g>
<g id="cf10"><polygon class="hx" points="1027,1196 1148,1196 1160,1208 1148,1221 1027,1221 1015,1208"/><text x="1087" y="1212">10 Cell Migration</text></g>
</g>
</svg>
